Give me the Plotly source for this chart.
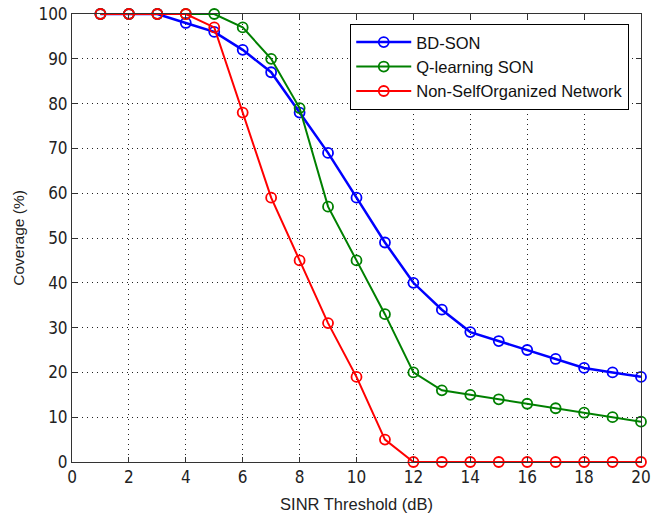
import plotly.graph_objects as go

sinr = list(range(1, 21))
bd_son = [100, 100, 100, 98, 96, 92, 87, 78, 69, 59, 49, 40, 34, 29, 27, 25, 23, 21, 20, 19]
q_son = [100, 100, 100, 100, 100, 97, 90, 79, 57, 45, 33, 20, 16, 15, 14, 13, 12, 11, 10, 9]
non_son = [100, 100, 100, 100, 97, 78, 59, 45, 31, 19, 5, 0, 0, 0, 0, 0, 0, 0, 0, 0]

x_ticks = list(range(0, 21, 2))
y_ticks = list(range(0, 101, 10))

TICKFONT = "Liberation Sans Narrow, DejaVu Sans Condensed, Liberation Sans, Arial, sans-serif"
FONT = "Liberation Sans, Arial, sans-serif"

fig = go.Figure()
series = [
    ("BD-SON", bd_son, "#0000ff", 2.5),
    ("Q-learning SON", q_son, "#008000", 2),
    ("Non-SelfOrganized Network", non_son, "#ff0000", 2),
]
for name, ys, col, lw in series:
    fig.add_trace(go.Scatter(
        x=sinr, y=ys, name=name, mode="lines+markers",
        line=dict(color=col, width=lw),
        marker=dict(symbol="circle-open", size=10, color=col, line=dict(width=1.8, color=col)),
        cliponaxis=False,
    ))

axis_common = dict(
    showgrid=True, gridcolor="#222222", griddash="1px,4px", gridwidth=1,
    showline=True, linecolor="#333333", linewidth=1, mirror="ticks",
    ticks="inside", ticklen=5, tickcolor="#333333", automargin=False,
    ticklabeloverflow="allow",
    zeroline=False, tickfont=dict(family=TICKFONT, size=17, color="#222222"),
)
fig.update_xaxes(range=[0, 20], tickvals=x_ticks,
                 title=dict(text="SINR Threshold (dB)", font=dict(family=FONT, size=16.5, color="#222222"), standoff=12),
                 **axis_common)
fig.update_yaxes(range=[0, 100], tickvals=y_ticks,
                 title=dict(text="Coverage (%)", font=dict(family=FONT, size=15.5, color="#222222"), standoff=9),
                 **axis_common)

fig.update_layout(
    width=663, height=517,
    margin=dict(l=72, r=22, t=14, b=55),
    plot_bgcolor="white", paper_bgcolor="white",
    showlegend=True,
    legend=dict(x=0.489, y=0.978, xanchor="left", yanchor="top",
                bordercolor="black", borderwidth=1, bgcolor="white",
                font=dict(family=FONT, size=16.5, color="#111111"),
                tracegroupgap=0, itemwidth=55),
)

fig.write_html("out.html", config={"displayModeBar": False},
               post_script="document.body.style.margin='0';")
